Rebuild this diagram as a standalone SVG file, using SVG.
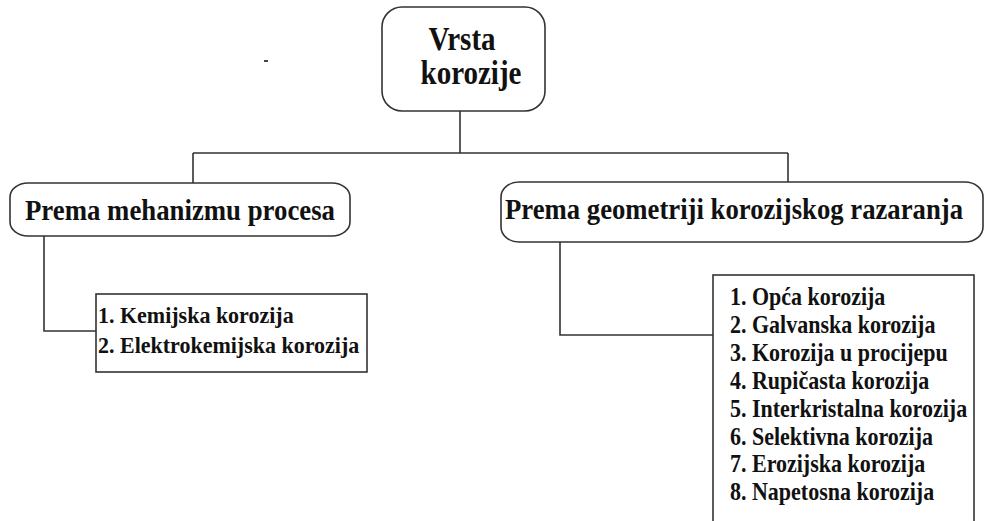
<svg xmlns="http://www.w3.org/2000/svg" width="984" height="521" viewBox="0 0 984 521">
<style>
.shape{fill:#fff;stroke:#333;stroke-width:1.6}
.conn{fill:none;stroke:#333;stroke-width:1.6}
text{font-family:"Liberation Serif","Times New Roman",serif;font-weight:bold;fill:#111}
.title{font-size:29px}
.mid{font-size:27px}
.item{font-size:22px}
</style>
<rect x="0" y="0" width="984" height="521" fill="#fff"/>
<rect x="264" y="60" width="4" height="2" fill="#444"/>
<g id="connectors">
<path class="conn" d="M460 111 V153 M193 153 H788 M193 153 V183 M788 153 V182"/>
<path class="conn" d="M44 236 V331 H97"/>
<path class="conn" d="M560 242 V335 H713"/>
</g>
<g id="root">
<rect class="shape" x="382" y="7" width="163" height="104" rx="20" ry="20"/>
<text class="title" transform="translate(462 50) scale(1 1.13)" text-anchor="middle">Vrsta</text>
<text class="title" transform="translate(471 84) scale(1 1.13)" text-anchor="middle">korozije</text>
</g>
<g id="mehanizam">
<rect class="shape" x="10" y="183" width="340" height="53" rx="18" ry="14"/>
<text class="mid" transform="translate(25 220) scale(1 1.06)" textLength="310" lengthAdjust="spacingAndGlyphs">Prema mehanizmu procesa</text>
</g>
<g id="geometrija">
<rect class="shape" x="501" y="182" width="482" height="60" rx="18" ry="15"/>
<text class="mid" transform="translate(505 219) scale(1 1.06)" textLength="458" lengthAdjust="spacingAndGlyphs">Prema geometriji korozijskog razaranja</text>
</g>
<g id="mehanizam-list">
<rect class="shape" x="96" y="294" width="271" height="78"/>
<text class="item" transform="translate(98 323) scale(1 1.05)">1. Kemijska korozija</text>
<text class="item" transform="translate(98 353) scale(1 1.05)">2. Elektrokemijska korozija</text>
</g>
<g id="geometrija-list">
<rect class="shape" x="713" y="275" width="261" height="260"/>
<text class="item" transform="translate(730 305) scale(1 1.1)">1. Opća korozija</text>
<text class="item" transform="translate(730 333) scale(1 1.1)">2. Galvanska korozija</text>
<text class="item" transform="translate(730 361) scale(1 1.1)">3. Korozija u procijepu</text>
<text class="item" transform="translate(730 389) scale(1 1.1)">4. Rupičasta korozija</text>
<text class="item" transform="translate(730 417) scale(1 1.1)">5. Interkristalna korozija</text>
<text class="item" transform="translate(730 445) scale(1 1.1)">6. Selektivna korozija</text>
<text class="item" transform="translate(730 472) scale(1 1.1)">7. Erozijska korozija</text>
<text class="item" transform="translate(730 500) scale(1 1.1)">8. Napetosna korozija</text>
</g>
</svg>
